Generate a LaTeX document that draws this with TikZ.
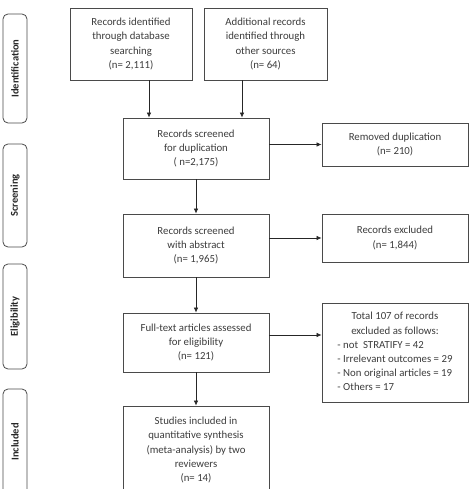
\documentclass[tikz,border=0pt]{standalone}
\usepackage{fontspec}
\setmainfont{Carlito}
\usetikzlibrary{arrows.meta,positioning}
\definecolor{boxline}{HTML}{4A4A4A}
\definecolor{txtgray}{HTML}{3C3C3C}

\begin{document}
\begin{tikzpicture}[x=1pt,y=-1pt,
  box/.style={draw=boxline, line width=0.8pt, text=txtgray, font=\fontsize{10.8}{14.2}\selectfont, align=center, inner sep=0pt, minimum width=146pt},
  phase/.style={draw=boxline, line width=0.8pt, rounded corners=5pt, rotate=90, minimum height=24pt, inner sep=0pt, text=black!85, font=\fontsize{10.5}{12}\selectfont\bfseries},
  arr/.style={-{Latex[length=5pt,width=4.5pt]}, line width=0.7pt, draw=black!85}]
\clip (0,0) rectangle (473,489);

% phase labels
\node[phase, minimum width=109pt] (ident) at (15,68.5) {Identification};
\node[phase, minimum width=103pt] (screen) at (15,195.5) {Screening};
\node[phase, minimum width=105pt] (elig) at (15,316.5) {Eligibility};
\node[phase, minimum width=106pt] (incl) at (15,442) {Included};

% main boxes
\node[box, minimum width=122pt, minimum height=72pt] (rec1) at (131,44) {Records identified\\through database\\searching\\(n= 2,111)};
\node[box, minimum width=123pt, minimum height=72pt] (rec2) at (265.5,44) {Additional records\\identified through\\other sources\\(n= 64)};
\node[box, minimum height=61pt] (dup) at (196,148.5) {Records screened\\for duplication\\( n=2,175)};
\node[box, minimum height=63pt] (abs) at (196,245.5) {Records screened\\with abstract\\(n= 1,965)};
\node[box, minimum height=59pt] (full) at (196,342.5) {Full-text articles assessed\\for eligibility\\(n= 121)};
\node[box, minimum height=88pt] (study) at (196,450) {Studies included in\\quantitative synthesis\\(meta-analysis) by two\\reviewers\\(n= 14)};

% side boxes
\node[box, minimum height=43pt] (removed) at (395,144.5) {Removed duplication\\(n= 210)};
\node[box, minimum height=48pt] (excl) at (395,238) {Records excluded\\(n= 1,844)};
\node[box, minimum height=99pt] (total) at (395,352.5) {\begin{tabular}{@{}l@{}}
  \multicolumn{1}{@{}c@{}}{Total 107 of records}\\
  \multicolumn{1}{@{}c@{}}{excluded as follows:}\\
  - not\ \ STRATIFY = 42\\
  - Irrelevant outcomes = 29\\
  - Non original articles = 19\\
  - Others = 17
\end{tabular}};

% arrows
\draw[arr] ([xshift=18pt]rec1.south) -- ([xshift=18pt]rec1.south |- dup.north);
\draw[arr] ([xshift=-23.5pt]rec2.south) -- ([xshift=-23.5pt]rec2.south |- dup.north);
\draw[arr] (removed.west -| dup.east) -- (removed.west);
\draw[arr] (dup) -- (abs);
\draw[arr] (excl.west -| abs.east) -- (excl.west);
\draw[arr] (abs) -- (full);
\draw[arr] ([yshift=7.5pt]full.east) -- ([yshift=7.5pt]full.east -| total.west);
\draw[arr] (full) -- (study);
\end{tikzpicture}
\end{document}
